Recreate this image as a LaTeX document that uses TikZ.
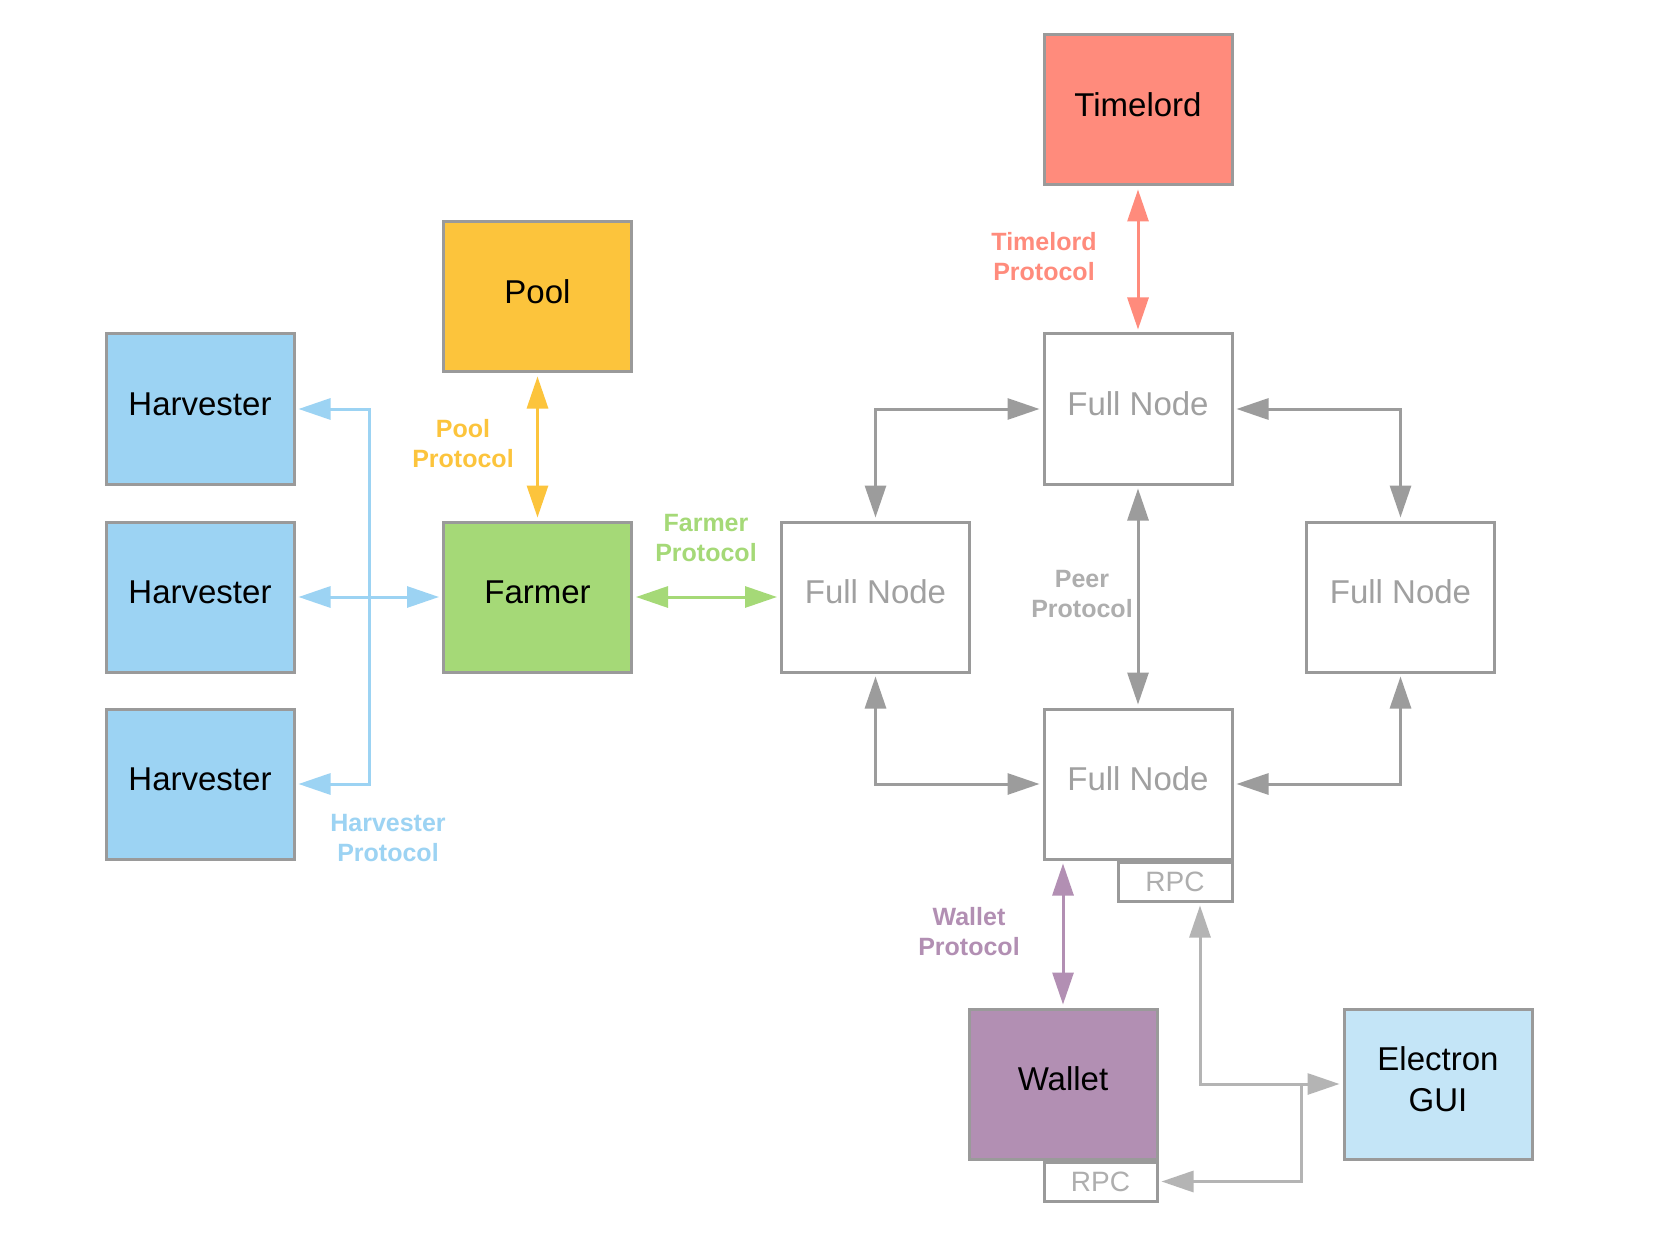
\documentclass[tikz,border=0pt]{standalone}
\usepackage{fontspec}
\setmainfont{Liberation Sans}
\usetikzlibrary{arrows.meta}
\definecolor{bordergray}{HTML}{9A9A9A}
\definecolor{netgray}{HTML}{9C9C9C}
\definecolor{rpcgray}{HTML}{B4B4B4}
\definecolor{textgray}{HTML}{A0A0A0}
\definecolor{timecol}{HTML}{FF8B7C}
\definecolor{poolcol}{HTML}{FCC43C}
\definecolor{harvcol}{HTML}{9CD3F3}
\definecolor{farmcol}{HTML}{A5D977}
\definecolor{walletcol}{HTML}{B28FB3}
\definecolor{guicol}{HTML}{C4E5F7}
\tikzset{
  box/.style={draw=bordergray, line width=3pt, minimum width=188pt, minimum height=150pt,
    inner sep=0pt, text depth=10pt, align=center, font=\fontsize{33}{41}\selectfont},
  fullnode/.style={box, fill=white, text=textgray},
  rpcbox/.style={draw=bordergray, line width=3pt, minimum width=113pt, minimum height=39pt,
    inner sep=0pt, fill=white, text=textgray!85, font=\fontsize{28}{30}\selectfont},
  lab/.style={font=\bfseries\fontsize{25}{30}\selectfont, align=center},
  conn/.style={line width=3pt, {Triangle[length=32pt,width=21pt]}-{Triangle[length=32pt,width=21pt]},
    shorten <=3pt, shorten >=3pt},
  connend/.style={line width=3pt, -{Triangle[length=32pt,width=21pt]}, shorten >=3pt}
}
\begin{document}
\begin{tikzpicture}[x=1pt,y=-1pt]
\useasboundingbox[fill=white] (0,0) rectangle (1658,1241);

% boxes
\node[box, fill=timecol] (T) at (1138,110) {Timelord};
\node[box, fill=poolcol] (P) at (537.5,297) {Pool};
\node[box, fill=harvcol] (H1) at (200,409) {Harvester};
\node[box, fill=harvcol] (H2) at (200,597) {Harvester};
\node[box, fill=harvcol] (H3) at (200,784) {Harvester};
\node[box, fill=farmcol] (F) at (537.5,597) {Farmer};
\node[fullnode] (FT) at (1138,409) {Full Node};
\node[fullnode] (FL) at (875.5,597) {Full Node};
\node[fullnode] (FR) at (1400.5,597) {Full Node};
\node[fullnode] (FB) at (1138,784) {Full Node};
\node[rpcbox, anchor=north east, minimum width=114pt] (R1) at (FB.south east) {RPC};
\node[box, fill=walletcol] (W) at (1063,1084) {Wallet};
\node[rpcbox, anchor=north east] (R2) at (W.south east) {RPC};
\node[box, fill=guicol] (G) at (1438,1084) {Electron\\GUI};

% helper coordinates
\coordinate (bt) at (369,409);
\coordinate (bb) at (369,784);
\coordinate (j) at (1301,1084);

% harvester protocol
\draw[conn, harvcol] (H1.east) -- (bt) -- (bb) -- (H3.east);
\draw[conn, harvcol] (H2.east) -- (F.west);

% pool, farmer, timelord
\draw[conn, poolcol] (P.south) -- (F.north);
\draw[conn, farmcol] (F.east) -- (FL.west);
\draw[conn, timecol] (T.south) -- (FT.north);

% peer network
\draw[conn, netgray] (FL.north) |- (FT.west);
\draw[conn, netgray] (FT.east) -| (FR.north);
\draw[conn, netgray] (FL.south) |- (FB.west);
\draw[conn, netgray] (FR.south) |- (FB.east);
\draw[conn, netgray] (FT.south) -- (FB.north);

% wallet protocol
\draw[conn, walletcol] (FB.south -| W.north) -- (W.north);

% RPC lines
\draw[conn, rpcgray] ([xshift=25pt]R1.south) |- (G.west);
\draw[connend, rpcgray] (j) |- (R2.east);

% labels
\node[lab, text=timecol] (lt) at (1044,257) {Timelord\\Protocol};
\node[lab, text=poolcol] (lp) at (463,444) {Pool\\Protocol};
\node[lab, text=farmcol] (lf) at (706,538) {Farmer\\Protocol};
\node[lab, text=harvcol] (lh) at (388,838) {Harvester\\Protocol};
\node[lab, text=textgray!85] (lpe) at (1082,594) {Peer\\Protocol};
\node[lab, text=walletcol] (lw) at (969,932) {Wallet\\Protocol};
\end{tikzpicture}
\end{document}
